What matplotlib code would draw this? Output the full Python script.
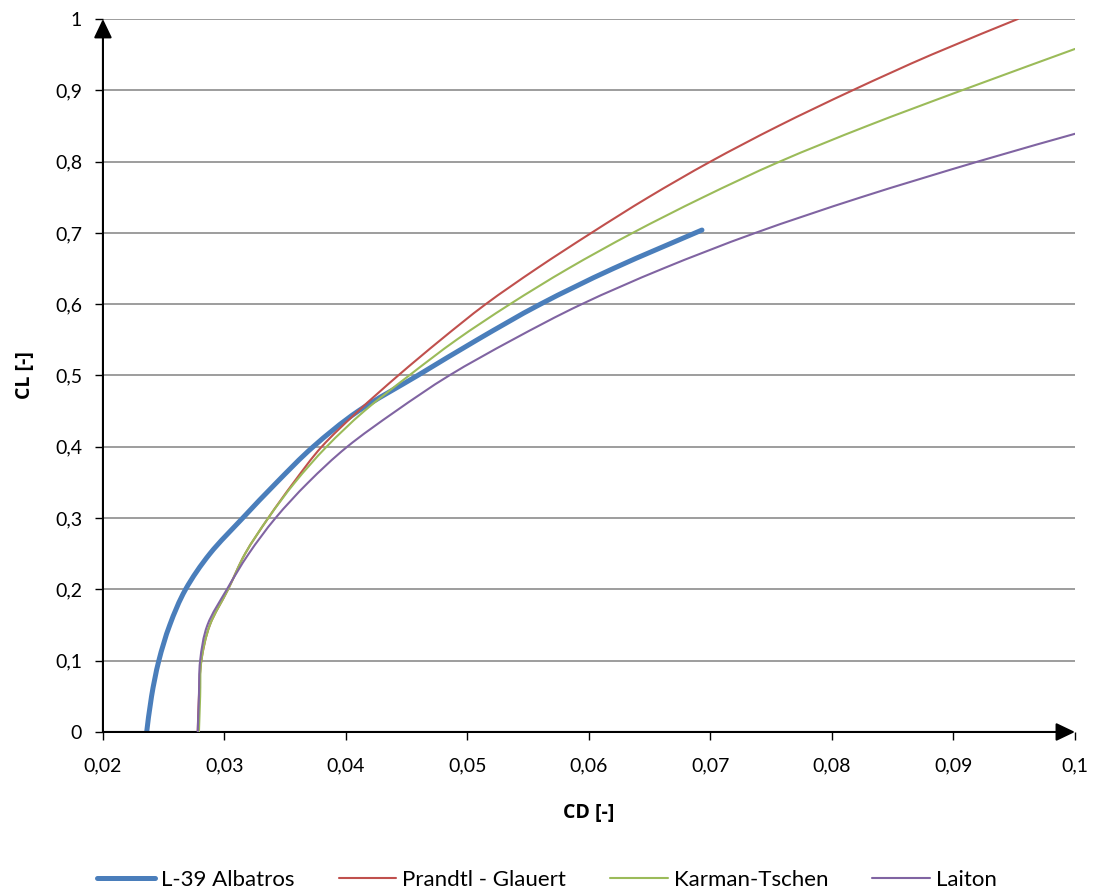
import matplotlib
matplotlib.use('Agg')
import matplotlib.pyplot as plt
import numpy as np
from matplotlib.ticker import FuncFormatter
from matplotlib.path import Path
from matplotlib.patches import PathPatch
from matplotlib.lines import Line2D

plt.rcParams['font.family'] = ['Lato', 'DejaVu Sans']

# --- Дані ---
cl_l39 = [0.0, 0.05, 0.1, 0.15, 0.2, 0.25, 0.3, 0.35, 0.4, 0.45, 0.5, 0.55, 0.6, 0.65, 0.704]
cd_l39 = [0.0236, 0.0240, 0.0246, 0.0255, 0.0268, 0.0288, 0.0315, 0.0343, 0.0373, 0.0410,
          0.0459, 0.0508, 0.0560, 0.0620, 0.0693]

cl_pg = [0.0, 0.05, 0.1, 0.15, 0.2, 0.25, 0.3, 0.35, 0.4, 0.45, 0.5, 0.55, 0.6, 0.65, 0.7,
         0.75, 0.8, 0.85, 0.9, 0.95, 1.0]
cd_pg = [0.0278, 0.0279, 0.0281, 0.0288, 0.0303, 0.0317, 0.0336, 0.0357, 0.0380, 0.0410,
         0.0443, 0.0478, 0.0515, 0.0557, 0.0602, 0.0649, 0.0700, 0.0756, 0.0817, 0.0882, 0.0953]

cl_kt = [0.0, 0.05, 0.1, 0.15, 0.2, 0.25, 0.3, 0.35, 0.4, 0.45, 0.5, 0.55, 0.6, 0.65, 0.7,
         0.75, 0.8, 0.85, 0.9, 0.958]
cd_kt = [0.0279, 0.0280, 0.0281, 0.0288, 0.0303, 0.0317, 0.0336, 0.0358, 0.0384, 0.0415,
         0.0452, 0.0491, 0.0535, 0.0583, 0.0636, 0.0694, 0.0757, 0.0829, 0.0907, 0.1000]

cl_la = [0.0, 0.05, 0.1, 0.15, 0.2, 0.25, 0.3, 0.35, 0.4, 0.45, 0.5, 0.55, 0.6, 0.65, 0.7,
         0.75, 0.8, 0.839]
cd_la = [0.0278, 0.0279, 0.0280, 0.0286, 0.0302, 0.0320, 0.0342, 0.0369, 0.0401, 0.0441,
         0.0485, 0.0537, 0.0594, 0.0661, 0.0737, 0.0824, 0.0920, 0.1000]

x_ticks = [0.02, 0.03, 0.04, 0.05, 0.06, 0.07, 0.08, 0.09, 0.1]
y_ticks = [0.0, 0.1, 0.2, 0.3, 0.4, 0.5, 0.6, 0.7, 0.8, 0.9, 1.0]


def comma_fmt(v, pos):
    s = ('%.2f' % v).rstrip('0').rstrip('.')
    return s.replace('.', ',')


def smooth_path(xs, ys):
    # згладжена лінія як в Excel (кубічні Безьє через точки)
    p = np.column_stack([xs, ys])
    n = len(p)
    verts = [p[0]]
    codes = [Path.MOVETO]
    for i in range(n - 1):
        p0 = p[i - 1] if i > 0 else p[i]
        p3 = p[i + 2] if i + 2 < n else p[i + 1]
        c1 = p[i] + (p[i + 1] - p0) / 6.0
        c2 = p[i + 1] - (p3 - p[i]) / 6.0
        verts += [c1, c2, p[i + 1]]
        codes += [Path.CURVE4] * 3
    return Path(verts, codes)


fig = plt.figure(figsize=(10.94, 8.92), dpi=100)
ax = fig.add_axes([0.0941, 0.1794, 0.8885, 0.7993])

series = [
    (cd_l39, cl_l39, '#4a7ebb', 3.6, 'L-39 Albatros'),
    (cd_pg, cl_pg, '#c0504d', 1.5, 'Prandtl - Glauert'),
    (cd_kt, cl_kt, '#9bbb59', 1.5, 'Karman-Tschen'),
    (cd_la, cl_la, '#8064a2', 1.5, 'Laiton'),
]
handles = []
for i, (xs, ys, col, lw, lab) in enumerate(series):
    patch = PathPatch(smooth_path(xs, ys), fill=False, edgecolor=col, lw=lw,
                      capstyle='round', joinstyle='round', zorder=2 + i)
    ax.add_patch(patch)
    handles.append(Line2D([], [], color=col, lw=lw, solid_capstyle='round', label=lab))

ax.set_xlim(0.02, 0.1)
ax.set_ylim(0, 1)
ax.set_xticks(x_ticks)
ax.set_yticks(y_ticks)
ax.xaxis.set_major_formatter(FuncFormatter(comma_fmt))
ax.yaxis.set_major_formatter(FuncFormatter(comma_fmt))

# горизонтальна сітка
for y in y_ticks[1:]:
    ax.axhline(y, color='#8c8c8c', lw=1.2, zorder=0)

for sp in ax.spines.values():
    sp.set_visible(False)

ax.tick_params(axis='both', direction='out', length=6, width=1, colors='black', labelsize=14)
ax.tick_params(axis='x', pad=12)
ax.tick_params(axis='y', pad=9)

# осі зі стрілками
arrow = dict(arrowstyle='-|>,head_length=1.15,head_width=0.55', color='black', lw=1.5,
             shrinkA=0, shrinkB=0, mutation_scale=10)
ax.annotate('', xy=(0, 1), xytext=(0, 0), xycoords='axes fraction', arrowprops=arrow)
ax.annotate('', xy=(1, 0), xytext=(0, 0), xycoords='axes fraction', arrowprops=arrow)

ax.set_xlabel('CD [-]', fontsize=14, fontweight='bold', family=['Open Sans', 'DejaVu Sans'])
ax.set_ylabel('CL [-]', fontsize=14, fontweight='bold', family=['Open Sans', 'DejaVu Sans'])
ax.xaxis.set_label_coords(0.5, -0.099)
ax.yaxis.set_label_coords(-0.07, 0.5)

fig.legend(handles=handles, loc='center', bbox_to_anchor=(0.5, 0.014), ncol=4, frameon=False,
           fontsize=16, handlelength=2.6, handletextpad=0.25, columnspacing=2.0)

fig.savefig('out.png', dpi=100)
